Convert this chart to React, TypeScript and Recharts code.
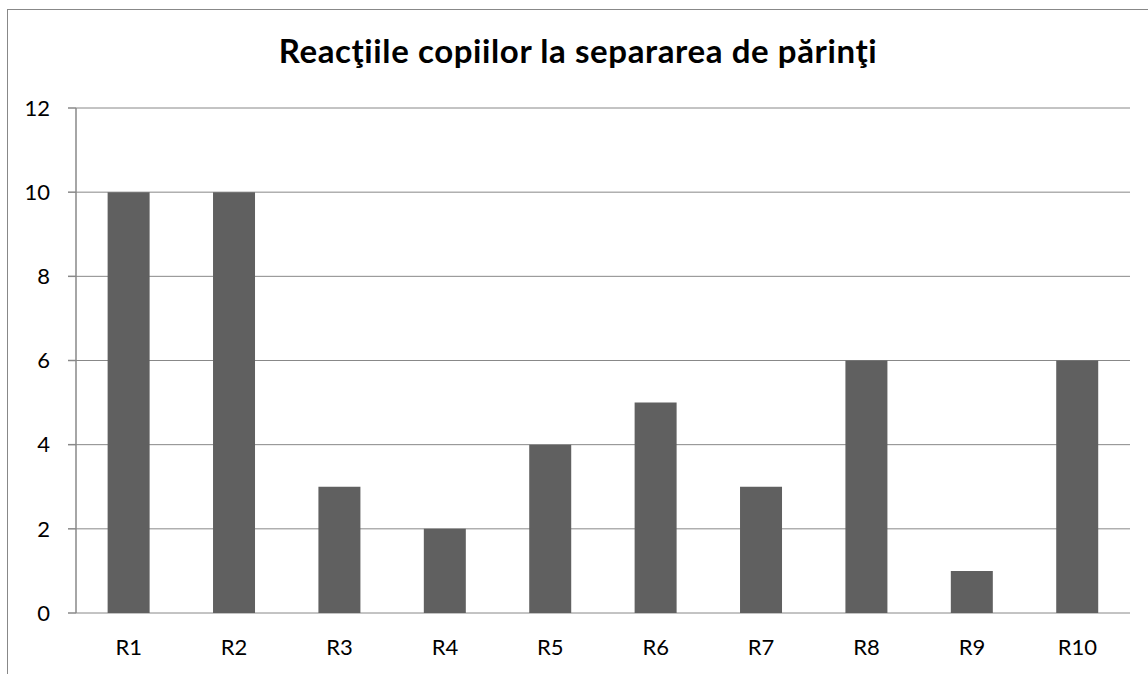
import React from "react";
import {
  Bar,
  BarChart,
  CartesianGrid,
  XAxis,
  YAxis,
} from "recharts";

const categories = ["R1", "R2", "R3", "R4", "R5", "R6", "R7", "R8", "R9", "R10"];
const values = [10, 10, 3, 2, 4, 5, 3, 6, 1, 6];
const yTicks = [0, 2, 4, 6, 8, 10, 12];
const boundaryTicks = [0, 1, 2, 3, 4, 5, 6, 7, 8, 9, 10];

const title = "Reacţiile copiilor la separarea de părinţi";

const FONT = "Lato, 'Open Sans', sans-serif";
const AXIS_GREY = "#888888";

export default function App() {
  const data = categories.map((name, i) => ({ name, value: values[i] }));

  return (
    <div
      style={{
        position: "fixed",
        left: 7,
        top: 9,
        width: 1141,
        height: 665,
        borderLeft: `1px solid ${AXIS_GREY}`,
        borderTop: `1px solid ${AXIS_GREY}`,
        background: "#fff",
        fontFamily: FONT,
      }}
    >
      <div
        style={{
          position: "absolute",
          left: 0,
          width: 1140,
          top: 20,
          textAlign: "center",
          fontSize: 33,
          fontWeight: 700,
          letterSpacing: 0.6,
          color: "#000",
          lineHeight: "40px",
          whiteSpace: "nowrap",
        }}
      >
        {title}
      </div>
      <BarChart
        width={1140}
        height={664}
        data={data}
        margin={{ top: 98, right: 18, left: 0, bottom: 0 }}
        barCategoryGap="30%"
      >
        <CartesianGrid
          vertical={false}
          stroke={AXIS_GREY}
          strokeWidth={1}
          yAxisId="y"
          xAxisId="cat"
        />
        <XAxis
          xAxisId="num"
          type="number"
          domain={[0, 10]}
          ticks={boundaryTicks}
          tick={false}
          tickSize={8}
          height={0}
          axisLine={{ stroke: AXIS_GREY, strokeWidth: 1.5 }}
          tickLine={{ stroke: AXIS_GREY, strokeWidth: 1.5 }}
          allowDataOverflow
        />
        <XAxis
          xAxisId="cat"
          dataKey="name"
          type="category"
          axisLine={false}
          tickLine={false}
          tickSize={0}
          tickMargin={26}
          height={61}
          interval={0}
          tick={{ fill: "#000", fontSize: 22, fontFamily: FONT }}
        />
        <YAxis
          yAxisId="y"
          domain={[0, 12]}
          ticks={yTicks}
          interval={0}
          width={68}
          tickSize={8}
          tickMargin={18}
          axisLine={{ stroke: AXIS_GREY, strokeWidth: 1.5 }}
          tickLine={{ stroke: AXIS_GREY, strokeWidth: 1.5 }}
          tick={{ fill: "#000", fontSize: 22, fontFamily: FONT }}
        />
        <Bar
          dataKey="value"
          xAxisId="cat"
          yAxisId="y"
          fill="#606060"
          isAnimationActive={false}
        />
      </BarChart>
    </div>
  );
}
